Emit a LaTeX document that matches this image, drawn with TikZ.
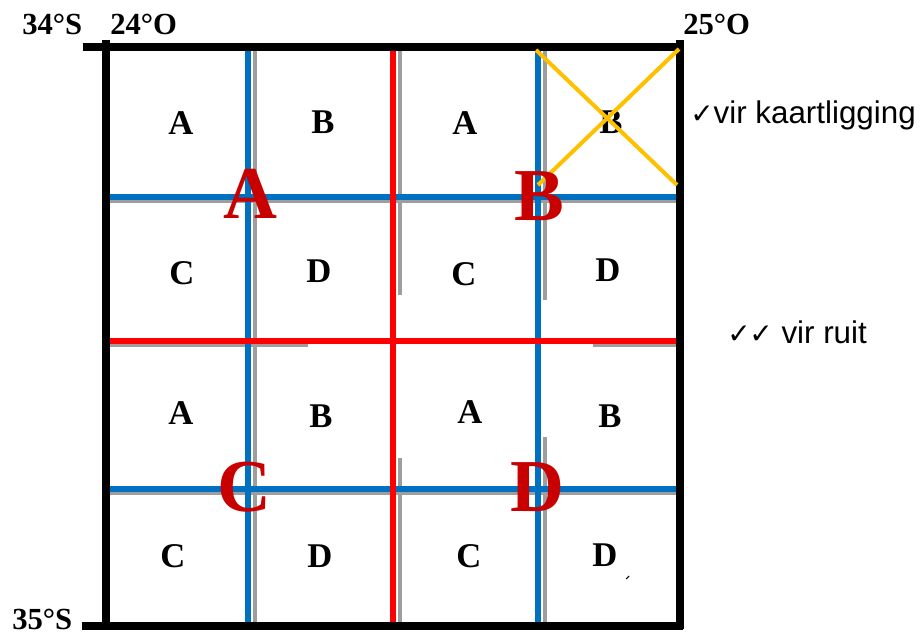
\documentclass[tikz,border=0pt]{standalone}
\usepackage{fontspec}
\setmainfont{Liberation Serif}
\newfontfamily\sansf{Liberation Sans}
\newfontfamily\symf{DejaVu Sans}
\definecolor{gridblue}{HTML}{0070C0}
\definecolor{gridred}{HTML}{FF0000}
\definecolor{bigred}{HTML}{C80000}
\definecolor{shadow}{HTML}{9E9E9E}
\definecolor{xorange}{HTML}{FFC000}
\tikzset{
  frame/.style={line width=5.4pt, black},
  blueline/.style={line width=5.2pt, gridblue},
  redline/.style={line width=5.2pt, gridred},
  shadowline/.style={line width=3pt, shadow},
  crossline/.style={line width=3pt, xorange},
  cell/.style={font=\bfseries\fontsize{26}{26}\selectfont, anchor=base, inner sep=0pt},
  big/.style={text=bigred, font=\bfseries\fontsize{56}{56}\selectfont, anchor=base, inner sep=0pt},
  coordlbl/.style={font=\bfseries\fontsize{23}{23}\selectfont, anchor=base west, inner sep=0pt},
  note/.style={font=\sansf\fontsize{23.5}{23.5}\selectfont, anchor=base west, inner sep=0pt},
}
\newcommand{\chk}{{\symf\fontsize{21}{21}\selectfont ✓}}
\begin{document}
\begin{tikzpicture}[x=0.75pt,y=-0.75pt]
\useasboundingbox (0,0) rectangle (921,635);
% gray shadow lines
\draw[shadowline] (255,47) -- (255,626);
\draw[shadowline] (544.5,47) -- (544.5,300);
\draw[shadowline] (544.5,437) -- (544.5,622);
\draw[shadowline] (399.5,47) -- (399.5,295);
\draw[shadowline] (399.5,458) -- (399.5,624);
\draw[shadowline] (106,201) -- (679,201);
\draw[shadowline] (102,493) -- (679,493);
\draw[shadowline] (106,345) -- (308,345);
\draw[shadowline] (593,345) -- (677,345);
% blue lines
\draw[blueline] (248,47) -- (248,626);
\draw[blueline] (538,47) -- (538,622);
\draw[blueline] (106,197) -- (679,197);
\draw[blueline] (102,489) -- (679,489);
% red lines
\draw[redline] (393,47) -- (393,626);
\draw[redline] (104,341) -- (677,341);
% frame
\draw[frame] (106,40) -- (106,629);
\draw[frame] (680,40) -- (680,629);
\draw[line width=6pt] (83,47) -- (683,47);
\draw[frame] (82,626) -- (683,626);
% small mark
\draw[line width=0.8pt] (626,579) -- (629,576);
% cell letters
\node[cell] (r1a) at (181,134) {A};
\node[cell] (r1b) at (323,133) {B};
\node[cell] (r1c) at (465,134) {A};
\node[cell] (r1d) at (611,133) {B};
\node[cell] (r2a) at (182,284) {C};
\node[cell] (r2b) at (319,282) {D};
\node[cell] (r2c) at (464,285) {C};
\node[cell] (r2d) at (608,281) {D};
\node[cell] (r3a) at (181,424) {A};
\node[cell] (r3b) at (321,427) {B};
\node[cell] (r3c) at (470,423) {A};
\node[cell] (r3d) at (610,427) {B};
\node[cell] (r4a) at (173,567) {C};
\node[cell] (r4b) at (320,567) {D};
\node[cell] (r4c) at (469,567) {C};
\node[cell] (r4d) at (605,566) {D};
% orange cross over letter B
\draw[crossline] (536,50) -- (677,185);
\draw[crossline] (679,49) -- (538,185);
% big red letters
\node[big] (bigA) at (250,218) {A};
\node[big] (bigB) at (539,220) {B};
\node[big] (bigC) at (244,511) {C};
\node[big] (bigD) at (537,511) {D};
% coordinate labels
\node[coordlbl] (s34) at (22,35) {34°S};
\node[coordlbl] (o24) at (110,35) {24°O};
\node[coordlbl] (o25) at (683,35) {25°O};
\node[coordlbl] (s35) at (12,629) {35°S};
% notes
\node[note] (n1) at (690,123) {\chk vir kaartligging};
\node[note] (n2) at (727,343) {\chk\kern-1pt\chk\ vir ruit};
\end{tikzpicture}
\end{document}
